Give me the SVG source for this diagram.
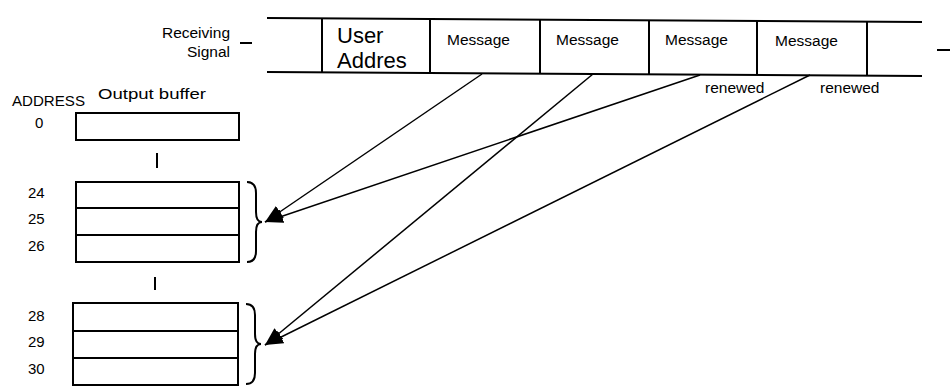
<svg xmlns="http://www.w3.org/2000/svg" width="952" height="390" viewBox="0 0 952 390">
<style>
text{font-family:"Liberation Sans",Arial,sans-serif;fill:#000}
.m{font-size:15.5px}
.big{font-size:22px}
.lab{font-size:15px}
.box{fill:#fff;stroke:#000;stroke-width:2}
.ln{stroke:#000;stroke-width:2;fill:none}
.br{stroke:#000;stroke-width:2;fill:none}
.con{stroke:#000;stroke-width:1.5;fill:none}
</style>
<defs>
<marker id="ah" markerUnits="userSpaceOnUse" markerWidth="20" markerHeight="14" refX="18" refY="7" orient="auto">
<path d="M0,0 L18,7 L0,14 Z" fill="#000"/>
</marker>
</defs>
<g id="receiving-signal">
<text class="m" x="230" y="38" text-anchor="end">Receiving</text>
<text class="m" x="230" y="57" text-anchor="end">Signal</text>
<line class="ln" x1="240" y1="43" x2="252" y2="43" stroke-width="1.5"/>
</g>
<g id="signal-bar">
<line class="ln" x1="267" y1="18" x2="922" y2="22"/>
<line class="ln" x1="267" y1="72" x2="922" y2="76"/>
<line class="ln" x1="322" y1="18.3" x2="322" y2="72.3"/>
<line class="ln" x1="430" y1="19" x2="430" y2="73"/>
<line class="ln" x1="540" y1="19.7" x2="540" y2="73.7"/>
<line class="ln" x1="649" y1="20.3" x2="649" y2="74.3"/>
<line class="ln" x1="757" y1="21" x2="757" y2="75"/>
<line class="ln" x1="867" y1="21.7" x2="867" y2="75.7"/>
<line class="ln" x1="937" y1="50" x2="950" y2="50" stroke-width="1.5"/>
</g>
<g id="user-address">
<text class="big" x="337" y="43">User</text>
<text class="big" x="337" y="68">Addres</text>
</g>
<g id="msg1"><text class="m" x="447" y="45">Message</text></g>
<g id="msg2"><text class="m" x="556" y="45">Message</text></g>
<g id="msg3"><text class="m" x="665" y="45">Message</text><text class="m" x="705" y="93">renewed</text></g>
<g id="msg4"><text class="m" x="775" y="46">Message</text><text class="m" x="820" y="93">renewed</text></g>
<g id="output-buffer">
<text class="lab" x="12" y="106" textLength="73" lengthAdjust="spacingAndGlyphs">ADDRESS</text>
<text class="lab" x="98" y="99" textLength="108" lengthAdjust="spacingAndGlyphs">Output buffer</text>
</g>
<g id="addr0">
<text class="lab" x="35" y="128">0</text>
<rect class="box" x="76" y="113" width="163" height="27"/>
</g>
<line class="ln" x1="157" y1="153" x2="157" y2="168"/>
<g id="addr24-26">
<rect class="box" x="76" y="182" width="163" height="80"/>
<line class="ln" x1="76" y1="208" x2="239" y2="208"/>
<line class="ln" x1="76" y1="235" x2="239" y2="235"/>
<text class="lab" x="28" y="198">24</text>
<text class="lab" x="28" y="224">25</text>
<text class="lab" x="28" y="251">26</text>
<path class="br" d="M247,182 Q256,182 256,193 L256,212 Q256,222 262,222 Q256,222 256,232 L256,251 Q256,262 247,262"/>
</g>
<line class="ln" x1="155" y1="277" x2="155" y2="290"/>
<g id="addr28-30">
<rect class="box" x="73" y="303" width="165" height="82"/>
<line class="ln" x1="73" y1="331" x2="238" y2="331"/>
<line class="ln" x1="73" y1="358" x2="238" y2="358"/>
<text class="lab" x="28" y="321">28</text>
<text class="lab" x="28" y="347">29</text>
<text class="lab" x="28" y="374">30</text>
<path class="br" d="M246,304 Q255,304 255,315 L255,334 Q255,344 261,344 Q255,344 255,354 L255,373 Q255,384 246,384"/>
</g>
<g id="connectors">
<line class="con" x1="482" y1="74" x2="265" y2="222" marker-end="url(#ah)"/>
<line class="con" x1="700" y1="75" x2="265" y2="222" marker-end="url(#ah)"/>
<line class="con" x1="593" y1="74" x2="265" y2="345" marker-end="url(#ah)"/>
<line class="con" x1="810" y1="75" x2="265" y2="345" marker-end="url(#ah)"/>
</g>
</svg>
